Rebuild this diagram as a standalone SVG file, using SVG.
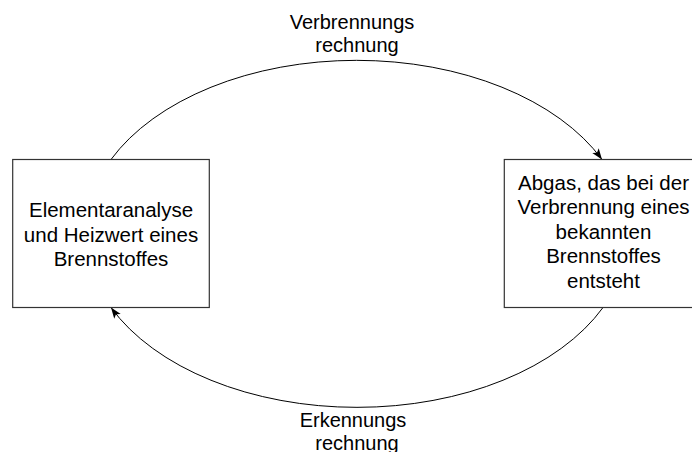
<svg xmlns="http://www.w3.org/2000/svg" width="692" height="452" viewBox="0 0 692 452">
  <style>
    .box { fill: #ffffff; stroke: #333333; stroke-width: 1.2; }
    .txt { font-family: "Liberation Sans", Arial, sans-serif; font-size: 20.5px; fill: #000000; text-anchor: middle; }
    .lbl { font-family: "Liberation Sans", Arial, sans-serif; font-size: 20px; fill: #000000; text-anchor: middle; }
    .arc { fill: none; stroke: #000000; stroke-width: 1; }
  </style>
  <defs>
    <marker id="arrow" markerUnits="userSpaceOnUse" markerWidth="12" markerHeight="9" refX="11" refY="4" orient="auto">
      <path d="M0,0 L11,4 L0,8 L2.5,4 z" fill="#000000"/>
    </marker>
  </defs>
  <rect width="692" height="452" fill="#ffffff"/>
  <g id="connectors">
    <path class="arc" d="M111,159.5 A271,172 0 0 1 602,159.5" marker-end="url(#arrow)"/>
    <path class="arc" d="M603,307.5 A271,172 0 0 1 111,307.5" marker-end="url(#arrow)"/>
    <g id="label-top">
      <text class="lbl" x="352" y="28.5">Verbrennungs</text>
      <text class="lbl" x="357" y="52">rechnung</text>
    </g>
    <g id="label-bottom">
      <text class="lbl" x="353" y="426.5">Erkennungs</text>
      <text class="lbl" x="357" y="450">rechnung</text>
    </g>
  </g>
  <g id="node-left">
    <rect class="box" x="12.7" y="159.5" width="196.6" height="148"/>
    <text class="txt" x="111" y="217">Elementaranalyse</text>
    <text class="txt" x="111" y="241.5">und Heizwert eines</text>
    <text class="txt" x="111" y="266">Brennstoffes</text>
  </g>
  <g id="node-right">
    <rect class="box" x="504.3" y="159.5" width="197" height="148"/>
    <text class="txt" x="603.5" y="189.5">Abgas, das bei der</text>
    <text class="txt" x="603.5" y="214">Verbrennung eines</text>
    <text class="txt" x="603.5" y="238.5">bekannten</text>
    <text class="txt" x="603.5" y="263">Brennstoffes</text>
    <text class="txt" x="603.5" y="287.5">entsteht</text>
  </g>
</svg>
